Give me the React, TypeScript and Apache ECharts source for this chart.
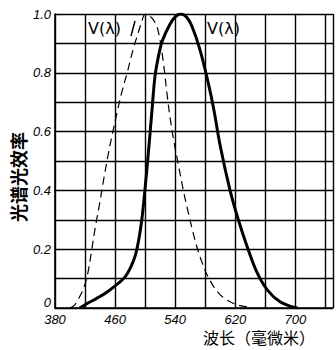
import React, { useEffect, useRef } from 'react';
import * as echarts from 'echarts';

// Photopic curve V(λ) (solid)
const photopicWl = [413, 424, 435, 447, 460, 473, 481, 487, 492, 496, 500, 504, 509, 513, 518, 523, 533, 540, 547, 555, 562, 573, 584, 591, 600, 613, 624, 636, 649, 663, 680, 697, 703];
const photopicV = [0, 0.017, 0.032, 0.05, 0.075, 0.105, 0.14, 0.18, 0.24, 0.31, 0.41, 0.52, 0.67, 0.786, 0.86, 0.91, 0.965, 0.99, 1.0, 0.99, 0.96, 0.878, 0.765, 0.68, 0.55, 0.4, 0.3, 0.207, 0.12, 0.06, 0.02, 0.003, 0];

// Scotopic curve (dashed)
const scotopicWl = [400, 406, 411, 417, 423, 429, 433, 439, 445, 451, 457, 463, 469, 476, 484, 490, 495, 500, 505, 511, 517, 524, 529, 533, 538, 544, 550, 556, 562, 568, 575, 582, 590, 598, 607, 617, 628, 640];
const scotopicV = [0, 0.01, 0.03, 0.06, 0.11, 0.2, 0.265, 0.35, 0.44, 0.525, 0.6, 0.67, 0.735, 0.8, 0.88, 0.93, 0.97, 1.0, 0.995, 0.98, 0.946, 0.84, 0.73, 0.65, 0.57, 0.49, 0.41, 0.34, 0.275, 0.215, 0.16, 0.115, 0.078, 0.05, 0.03, 0.016, 0.007, 0.002];

const xStart = 380;
const xEnd = 750;
const xStep = 40;
const xTickLabels = [380, 460, 540, 620, 700];
const yTickLabels = ['0', '0.2', '0.4', '0.6', '0.8', '1.0'];

const yName = '光谱光效率';
const xName = '波长（毫微米）';
const curveLabelA = 'V(λ)';
const curveLabelB = 'V(λ)';

export default function App() {
  const ref = useRef<HTMLDivElement>(null);
  useEffect(() => {
    const chart = echarts.init(ref.current!, null, { renderer: 'svg' });
    chart.setOption({
      animation: false,
      backgroundColor: '#fff',
      grid: { left: 55, top: 14, bottom: 42, right: 3 },
      xAxis: {
        type: 'value',
        min: 0,
        max: xEnd - xStart,
        interval: xStep,
        axisLine: { show: true, lineStyle: { color: '#000', width: 1.6 } },
        axisTick: { show: false },
        splitLine: { show: true, lineStyle: { color: '#000', width: 1.4 } },
        axisLabel: {
          margin: 4,
          color: '#000',
          fontSize: 13,
          lineHeight: 14,
          fontStyle: 'italic',
          fontFamily: 'Liberation Sans',
          formatter: (v: number) => {
            const w = Math.round(v + xStart);
            return xTickLabels.includes(w) ? String(w) : '';
          },
        },
      },
      yAxis: {
        type: 'value',
        min: 0,
        max: 1,
        interval: 0.1,
        axisLine: { show: true, lineStyle: { color: '#000', width: 1.6 } },
        axisTick: { show: false },
        splitLine: { show: true, lineStyle: { color: '#000', width: 1.4 } },
        axisLabel: {
          margin: 4,
          color: '#000',
          fontSize: 13,
          fontStyle: 'italic',
          fontFamily: 'Liberation Sans',
          formatter: (v: number) => {
            const k = Math.round(v * 10);
            if (k === 0) return '{z|' + yTickLabels[0] + '}';
            return k % 2 === 0 ? yTickLabels[k / 2] : '';
          },
          rich: {
            z: {
              fontSize: 13,
              fontStyle: 'italic',
              fontFamily: 'Liberation Sans',
              color: '#000',
              padding: [0, 0, 12, 0],
            },
          },
        },
      },
      series: [
        {
          type: 'line',
          data: photopicWl.map((w, i) => [w - xStart, photopicV[i]]),
          showSymbol: false,
          smooth: 0.35,
          lineStyle: { color: '#000', width: 3 },
        },
        {
          type: 'line',
          data: scotopicWl.map((w, i) => [w - xStart, scotopicV[i]]),
          showSymbol: false,
          smooth: 0.35,
          lineStyle: { color: '#000', width: 1.2, type: [8, 5] },
        },
      ],
      graphic: [
        {
          type: 'text',
          x: 18,
          y: 177,
          rotation: Math.PI / 2,
          style: {
            text: yName,
            fontSize: 18,
            fontWeight: 'bold',
            fontFamily: 'Noto Sans CJK SC',
            fill: '#000',
            align: 'center',
            verticalAlign: 'middle',
          },
        },
        {
          type: 'text',
          x: 203,
          y: 337,
          style: {
            text: xName,
            fontSize: 16,
            lineHeight: 16,
            fontFamily: 'Noto Sans CJK SC',
            fill: '#000',
            align: 'left',
            verticalAlign: 'middle',
          },
        },
        {
          type: 'rect',
          shape: { x: 87, y: 18, width: 42, height: 20 },
          style: { fill: '#fff' },
        },
        {
          type: 'text',
          x: 88,
          y: 28,
          style: {
            text: curveLabelB,
            fontSize: 16,
            fontFamily: 'DejaVu Sans',
            fill: '#000',
            align: 'left',
            verticalAlign: 'middle',
          },
        },
        {
          type: 'line',
          shape: { x1: 131, y1: 36, x2: 135, y2: 21 },
          style: { stroke: '#000', lineWidth: 1.5 },
        },
        {
          type: 'rect',
          shape: { x: 206, y: 18, width: 40, height: 20 },
          style: { fill: '#fff' },
        },
        {
          type: 'text',
          x: 207,
          y: 28,
          style: {
            text: curveLabelA,
            fontSize: 16,
            fontFamily: 'DejaVu Sans',
            fill: '#000',
            align: 'left',
            verticalAlign: 'middle',
          },
        },
      ],
    });
    return () => chart.dispose();
  }, []);
  return <div ref={ref} style={{ position: 'fixed', left: 0, top: 0, width: 336, height: 350 }} />;
}
